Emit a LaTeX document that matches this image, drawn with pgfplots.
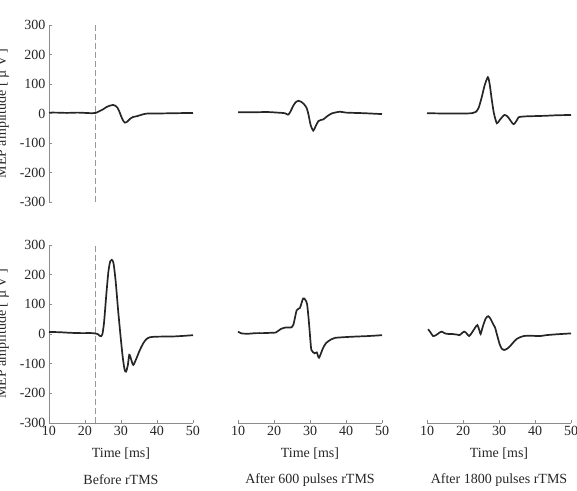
\documentclass[border=0pt]{standalone}
\usepackage{pgfplots}
\pgfplotsset{compat=1.18}
\usepackage{fontspec}
\setmainfont{Liberation Serif}
\pgfplotsset{
  mep/.style={
    scale only axis, width=144pt,
    xmin=10, xmax=50, ymin=-300, ymax=300,
    axis line style={black!45, line width=0.8pt},
    tick style={black!45, line width=0.6pt},
    tick align=inside, major tick length=3pt,
    xtick={10,20,30,40,50}, ytick={-300,-200,...,300},
    tick label style={font=\fontsize{14}{16}\selectfont, text=black!85},
    /pgf/number format/assume math mode=true,
    label style={font=\fontsize{14}{16}\selectfont, text=black!85},
    ylabel={MEP amplitude [ \textmu\ V ]},
    ylabel style={at={(axis description cs:-0.30,0.5)}, anchor=base, rotate=0},
    xlabel={Time [ms]},
    xlabel style={at={(axis description cs:0.5,-0.169)}, anchor=center},
    clip=false,
  },
  trace/.style={black!85, line width=1.7pt, smooth, tension=0.45},
  dline/.style={black!40, line width=0.8pt, dash pattern=on 6pt off 3pt},
}
\begin{document}
\begin{tikzpicture}
\useasboundingbox (0pt,0pt) rectangle (577pt,490pt);
\clip (0pt,0pt) rectangle (577pt,490pt);
% ---------- top row ----------
\begin{axis}[mep, at={(49pt,288pt)}, anchor=south west, height=177pt,
  axis y line*=left, axis x line=none, xlabel={}]
\addplot[dline] coordinates {(22.8,-300)(22.8,300)};
\addplot[trace] coordinates {
(10,3)(12,3)(15,2)(18,3)(20,2)(22,1)(23,2)(24,8)(25,14)(26,22)(27,27)(27.8,29)(28.5,26)(29,20)(29.5,8)(30,-8)(30.5,-22)(31.1,-31)(31.8,-27)(32.5,-18)(33.3,-12)(34.5,-9)(35.5,-5)(36.7,-1)(38,0)(40,0)(45,1)(50,2)};
\end{axis}
\begin{axis}[mep, at={(238pt,288pt)}, anchor=south west, height=177pt, hide axis]
\addplot[trace] coordinates {
(10,4)(14,4)(18,5)(21,3)(23,1)(23.9,-4)(24.5,5)(25.3,25)(26,38)(26.8,43)(27.5,40)(28.3,32)(29.1,18)(29.6,-5)(30.2,-40)(30.9,-58)(31.5,-45)(32.3,-26)(33,-22)(33.7,-20)(34.6,-11)(36,0)(38.3,6)(40,3)(45,1)(50,-2)};
\end{axis}
\begin{axis}[mep, at={(427pt,288pt)}, anchor=south west, height=177pt, hide axis]
\addplot[trace] coordinates {
(10,1)(15,0)(20,0)(22.5,1)(23.5,5)(24.3,18)(25.2,55)(26,95)(26.9,123)(27.4,100)(28,46)(28.6,0)(29.4,-33)(30.2,-22)(31.5,-5)(32.5,-12)(34,-36)(35,-22)(35.4,-13)(37,-10)(42.3,-8)(46,-6)(50,-5)};
\end{axis}
% ---------- bottom row ----------
\begin{axis}[mep, at={(49pt,67pt)}, anchor=south west, height=178pt,
  axis x line*=bottom, axis y line*=left]
\addplot[dline] coordinates {(22.8,-300)(22.8,300)};
\addplot[trace] coordinates {
(10,7)(13,6)(16,4)(19,3)(22,3)(23.5,0)(24.2,-7)(24.8,-2)(25.3,40)(25.9,130)(26.5,210)(27,245)(27.4,250)(27.9,240)(28.5,180)(29.2,80)(29.9,-10)(30.5,-80)(31,-120)(31.4,-127)(31.9,-105)(32.3,-70)(32.8,-85)(33.4,-104)(34.2,-85)(35.2,-55)(36.2,-31)(37,-18)(38,-11)(40,-9)(45,-8)(50,-4)};
\node[font=\fontsize{14}{16}\selectfont, text=black!85] at (rel axis cs:0.5,-0.32) {Before rTMS};
\end{axis}
\begin{axis}[mep, at={(238pt,67pt)}, anchor=south west, height=178pt,
  axis x line*=bottom, axis y line=none]
\addplot[trace] coordinates {
(10,8)(11,2)(13,1)(15,3)(17,3)(19,4)(20.5,5)(21.9,17)(23.3,22)(24.7,22)(25.4,32)(26.3,80)(27.2,88)(28.1,120)(28.7,115)(29.2,100)(29.7,40)(30.1,-20)(30.4,-54)(31.3,-65)(31.9,-62)(32.5,-80)(33.6,-48)(34.5,-30)(35.9,-18)(37,-13)(39.1,-11)(42,-9)(46,-7)(50,-4)};
\node[font=\fontsize{14}{16}\selectfont, text=black!85] at (rel axis cs:0.5,-0.32) {After 600 pulses rTMS};
\end{axis}
\begin{axis}[mep, at={(427pt,67pt)}, anchor=south west, height=178pt,
  axis x line*=bottom, axis y line=none]
\addplot[trace] coordinates {
(10.3,16)(11,5)(11.7,-7)(12.6,-3)(13.5,5)(14.1,8)(15,2)(16,0)(17,0)(18.3,-2)(19,-4)(20.3,8)(21,2)(21.7,-7)(22.5,5)(23.3,20)(24,30)(24.6,10)(24.9,0)(25.5,25)(26.3,52)(27,60)(27.6,52)(28.3,35)(28.9,22)(29.5,-5)(30.2,-35)(30.8,-50)(31.4,-54)(32.2,-50)(33,-42)(34,-28)(35,-16)(36.8,-7)(39,-6)(41.4,-7)(43,-4)(46,-1)(50,2)};
\node[font=\fontsize{14}{16}\selectfont, text=black!85] at (rel axis cs:0.5,-0.32) {After 1800 pulses rTMS};
\end{axis}
\end{tikzpicture}
\end{document}
